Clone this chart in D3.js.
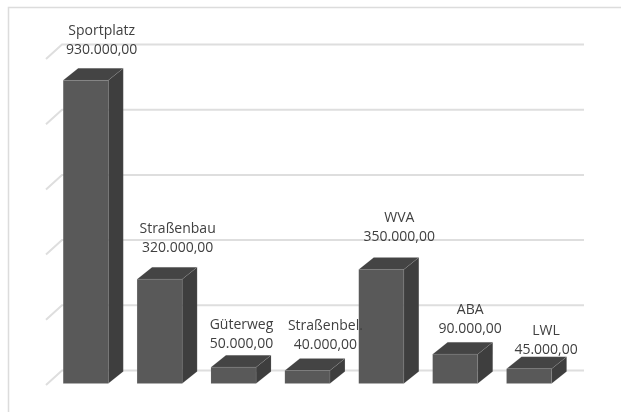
<!DOCTYPE html>
<html><head><meta charset="utf-8">
<script src="https://cdn.jsdelivr.net/npm/d3@7"></script>
<style>html,body{margin:0;padding:0;background:#fff}svg{display:block;filter:blur(.4px)}</style>
</head><body><svg id="c" width="621" height="412"></svg>
<script>
const categories = ["Sportplatz","Straßenbau","Güterweg","Straßenbel.","WVA","ABA","LWL"];
const values = [930000,320000,50000,40000,350000,90000,45000];
const valueLabels = ["930.000,00","320.000,00","50.000,00","40.000,00","350.000,00","90.000,00","45.000,00"];
// hand-placed data label offsets, as in the reference
const labelDx = [16,18,8,18,18,15,17];
const labelDy = [-26,-27,-19.5,-21,-28,-21,-15];

const svg = d3.select("#c");
const x = d3.scaleBand().domain(categories).range([48.4,566.4]).paddingInner(.39).paddingOuter(.2);
const y = d3.scaleLinear().domain([0,1000000]).range([383.5,57.5]);
const dx = 15, dy = 12, gridDx = 16, gridBack = 13, gridFront = 1.5, gridRight = 584;

// chart frame
svg.append("path").attr("d","M8.5,412V7.5H621").attr("fill","none").attr("stroke","#dcdcdc").attr("stroke-width",1.5);

// walls' gridlines
const g = svg.append("g").attr("fill","none").attr("stroke","#dedede").attr("stroke-width",2);
y.ticks(5).forEach(t=>{
  const py = y(t);
  g.append("path").attr("d",`M46,${py+gridFront}L${46+gridDx},${py-gridBack}H${gridRight}`);
});

// bars
const bars = svg.selectAll("g.bar").data(categories.map((c,i)=>({c,v:values[i],l:valueLabels[i],i}))).join("g").attr("class","bar");
const w = x.bandwidth();
bars.append("path").attr("fill","#3e3e3e").attr("stroke","#cfcfcf").attr("stroke-opacity",.2).attr("stroke-width",.5)
  .attr("d",d=>{const a=x(d.c)+w,t=y(d.v),b=y(0);return `M${a},${t}l${dx},${-dy}V${b-dy}l${-dx},${dy}Z`;});
bars.append("path").attr("fill","#444444").attr("stroke","#cfcfcf").attr("stroke-opacity",.2).attr("stroke-width",.5)
  .attr("d",d=>{const a=x(d.c),t=y(d.v);return `M${a},${t}l${dx},${-dy}h${w}l${-dx},${dy}Z`;});
bars.append("rect").attr("fill","#595959").attr("stroke","#cfcfcf").attr("stroke-opacity",.2).attr("stroke-width",.5)
  .attr("x",d=>x(d.c)).attr("y",d=>y(d.v)).attr("width",w).attr("height",d=>y(0)-y(d.v));

// labels
const text = svg.append("g").attr("font-family","'Open Sans', Lato, sans-serif").attr("font-size",14).attr("fill","#404040").attr("text-anchor","middle");
categories.forEach((c,i)=>{
  const cx = x(c)+w/2+labelDx[i], base = y(values[i])+labelDy[i];
  text.append("text").attr("x",cx).attr("y",base-19).text(c);
  text.append("text").attr("x",cx).attr("y",base).text(valueLabels[i]);
});
</script></body></html>
